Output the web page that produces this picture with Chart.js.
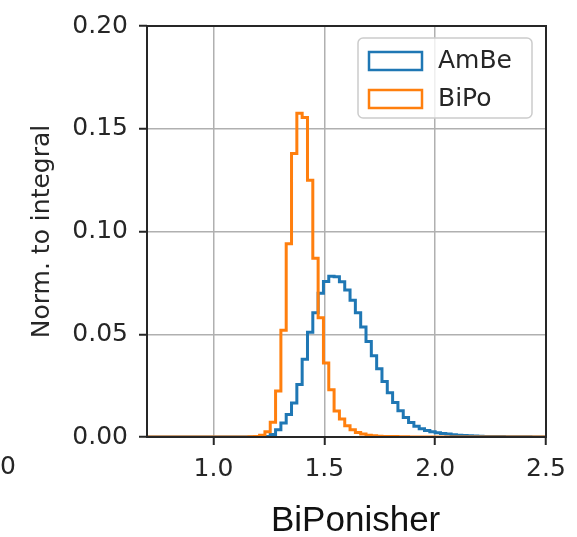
<!DOCTYPE html>
<html>
<head>
<meta charset="utf-8">
<script src="https://cdn.jsdelivr.net/npm/chart.js@4.4.0/dist/chart.umd.min.js"></script>
<style>
  html, body { margin: 0; padding: 0; background: #fff; }
</style>
</head>
<body>
<canvas id="histChart" width="577" height="537"></canvas>
<script>
// histogram binning: bin k covers [BIN_START + k*BIN_WIDTH, BIN_START + (k+1)*BIN_WIDTH)
const BIN_START = 0.704;
const BIN_WIDTH = 0.024;

const SERIES = ['AmBe', 'BiPo'];
const COLORS = ['#1f77b4', '#ff7f0e'];

const AMBE = [
    0, 0, 0, 0, 0, 0, 0, 0, 0, 0,
    0, 0, 0, 0, 0, 0, 0, 0, 0, 0,
    0, 0.0001, 0.0003, 0.0012, 0.0035, 0.0068, 0.011, 0.0165, 0.0255, 0.0378,
    0.051, 0.0605, 0.070, 0.0757, 0.0782, 0.078, 0.0755, 0.0715, 0.0665, 0.0605,
    0.0535, 0.0465, 0.0395, 0.0332, 0.027, 0.0215, 0.0168, 0.0128, 0.0095, 0.007,
    0.0052, 0.004, 0.0032, 0.0026, 0.0021, 0.0017, 0.0014, 0.0011, 0.0009, 0.0007,
    0.0006, 0.0005, 0.0004, 0.0003, 0.0003, 0.0002, 0.0002, 0.0001, 0.0001, 0.0001,
    0.0001, 0.0001, 0, 0, 0
];

const BIPO = [
    0, 0, 0, 0, 0, 0, 0, 0, 0, 0,
    0, 0, 0, 0, 0, 0, 0, 0, 0, 0.0001,
    0.0003, 0.0008, 0.0026, 0.0072, 0.0224, 0.052, 0.094, 0.138, 0.1575, 0.1555,
    0.125, 0.087, 0.058, 0.036, 0.023, 0.0127, 0.0087, 0.0055, 0.0035, 0.0022,
    0.0014, 0.0009, 0.0006, 0.0004, 0.0003, 0.0002, 0.0002, 0.0001, 0.0001, 0,
    0, 0, 0, 0, 0, 0, 0, 0, 0, 0,
    0, 0, 0, 0, 0, 0, 0, 0, 0, 0,
    0, 0, 0, 0, 0
];

const X_TICKS = [1.0, 1.5, 2.0, 2.5];
const Y_TICKS = [0, 0.05, 0.10, 0.15, 0.20];

const TICK_FONT = { family: 'DejaVu Sans', size: 25 };
const TEXT_COLOR = '#262626';

// outline of a step histogram: up at the first edge, across each bin, down at the last edge
function stepPoints(values) {
    const pts = [{ x: BIN_START, y: 0 }];
    values.forEach((v, i) => pts.push({ x: BIN_START + i * BIN_WIDTH, y: v }));
    const end = BIN_START + values.length * BIN_WIDTH;
    pts.push({ x: end, y: values[values.length - 1] });
    pts.push({ x: end, y: 0 });
    return pts;
}

const framePlugin = {
    id: 'frameAndLegend',
    afterDatasetsDraw(chart) {
        const { ctx, chartArea: a } = chart;
        ctx.save();

        // axes box
        ctx.strokeStyle = TEXT_COLOR;
        ctx.lineWidth = 2;
        ctx.strokeRect(a.left, a.top, a.right - a.left, a.bottom - a.top);

        // legend in the upper right
        ctx.beginPath();
        ctx.roundRect(358, 38, 174, 80, 5);
        ctx.fillStyle = 'rgba(255,255,255,0.8)';
        ctx.fill();
        ctx.strokeStyle = '#cccccc';
        ctx.lineWidth = 1.5;
        ctx.stroke();

        ctx.font = '25px "DejaVu Sans"';
        ctx.textBaseline = 'middle';
        ctx.textAlign = 'left';
        chart.data.datasets.forEach((ds, i) => {
            const cy = 61 + i * 38;
            ctx.strokeStyle = ds.borderColor;
            ctx.lineWidth = 2.5;
            ctx.fillStyle = '#fff';
            ctx.fillRect(369, cy - 9, 53, 18);
            ctx.strokeRect(369, cy - 9, 53, 18);
            ctx.fillStyle = TEXT_COLOR;
            ctx.fillText(ds.label, 438, cy);
        });

        // x axis name
        ctx.font = '35px "Liberation Sans"';
        ctx.fillStyle = '#111';
        ctx.textBaseline = 'alphabetic';
        ctx.fillText('BiPonisher', 271, 531);

        // tick label of the neighbouring panel
        ctx.font = '25px "DejaVu Sans"';
        ctx.fillStyle = TEXT_COLOR;
        ctx.textAlign = 'right';
        ctx.textBaseline = 'middle';
        ctx.fillText('0', 16, 467);

        ctx.restore();
    }
};

const ctx = document.getElementById('histChart').getContext('2d');
new Chart(ctx, {
    type: 'line',
    data: {
        datasets: [
            {
                label: SERIES[0],
                data: stepPoints(AMBE),
                borderColor: COLORS[0],
                borderWidth: 3,
                stepped: 'before',
                pointRadius: 0,
                fill: false,
                order: 1
            },
            {
                label: SERIES[1],
                data: stepPoints(BIPO),
                borderColor: COLORS[1],
                borderWidth: 3,
                stepped: 'before',
                pointRadius: 0,
                fill: false,
                order: 0
            }
        ]
    },
    options: {
        responsive: false,
        animation: false,
        layout: { padding: { top: 26, right: 31, left: 0, bottom: 0 } },
        plugins: {
            legend: { display: false },
            tooltip: { enabled: false }
        },
        scales: {
            x: {
                type: 'linear',
                min: 0.7,
                max: 2.5,
                afterBuildTicks: s => { s.ticks = X_TICKS.map(v => ({ value: v })); },
                afterFit: s => { s.height = 100; },
                ticks: {
                    callback: v => v.toFixed(1),
                    font: TICK_FONT,
                    color: TEXT_COLOR,
                    padding: 9,
                    maxRotation: 0,
                    autoSkip: false
                },
                grid: {
                    color: '#b0b0b0',
                    lineWidth: 1.5,
                    tickColor: TEXT_COLOR,
                    tickWidth: 2,
                    tickLength: 8
                },
                border: { display: false }
            },
            y: {
                min: 0,
                max: 0.2,
                afterBuildTicks: s => { s.ticks = Y_TICKS.map(v => ({ value: v })); },
                afterFit: s => { s.width = 147; },
                ticks: {
                    callback: v => v.toFixed(2),
                    font: TICK_FONT,
                    color: TEXT_COLOR,
                    padding: 11,
                    autoSkip: false
                },
                grid: {
                    color: '#b0b0b0',
                    lineWidth: 1.5,
                    tickColor: TEXT_COLOR,
                    tickWidth: 2,
                    tickLength: 8
                },
                border: { display: false },
                title: {
                    display: true,
                    text: 'Norm. to integral',
                    font: TICK_FONT,
                    color: TEXT_COLOR,
                    padding: { top: 27, bottom: 0 }
                }
            }
        }
    },
    plugins: [framePlugin]
});
</script>
</body>
</html>
